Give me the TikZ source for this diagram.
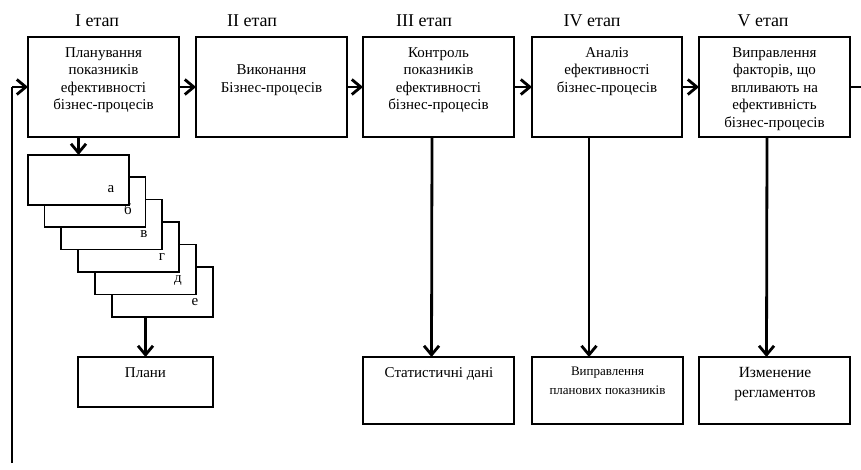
\documentclass[tikz,border=0pt]{standalone}
\usepackage{fontspec}
\setmainfont{Liberation Serif}
\usetikzlibrary{arrows.meta}
\begin{document}
\begin{tikzpicture}[x=1pt,y=-1pt,
  box/.style={draw=black, line width=1.3pt, fill=white, inner sep=0pt, outer sep=0pt},
  topbox/.style={box, minimum width=151pt, minimum height=100pt},
  stackbox/.style={box, minimum width=101pt, minimum height=50pt, anchor=north west},
  lowbox/.style={box, minimum width=151pt, minimum height=67pt, anchor=north west},
  arr/.style={line width=2.8pt, -{Straight Barb[length=9pt,width=15pt]}},
  thinline/.style={line width=1.1pt},
  lbl/.style={anchor=base, inner sep=0pt, font=\fontsize{15}{17.5}\selectfont},
  small/.style={anchor=base, inner sep=0pt, font=\fontsize{13}{19}\selectfont},
  big/.style={anchor=base, inner sep=0pt, font=\fontsize{15.5}{20}\selectfont},
  stage/.style={anchor=base, inner sep=0pt, font=\fontsize{18}{20}\selectfont},
]
\useasboundingbox (0,0) rectangle (861,470);

% stage labels
\node[stage] (g1) at (97,27) {I етап};
\node[stage] (g2) at (252,27) {II етап};
\node[stage] (g3) at (424,27) {III етап};
\node[stage] (g4) at (592,27) {IV етап};
\node[stage] (g5) at (763,27) {V етап};

% top boxes
\node[topbox] (b1) at (103.5,87) {};
\node[topbox] (b2) at (271.5,87) {};
\node[topbox] (b3) at (438.5,87) {};
\node[topbox, minimum width=150pt] (b4) at (607,87) {};
\node[topbox] (b5) at (774.5,87) {};

\node[lbl] (t1) at (103.5,57.5) {\parbox[t]{150pt}{\centering Планування\\показників\\ефективності\\бізнес-процесів}};
\node[lbl] (t2) at (271.5,75) {\parbox[t]{150pt}{\centering Виконання\\Бізнес-процесів}};
\node[lbl] (t3) at (438.5,57.5) {\parbox[t]{150pt}{\centering Контроль\\показників\\ефективності\\бізнес-процесів}};
\node[lbl] (t4) at (607,57.5) {\parbox[t]{150pt}{\centering Аналіз\\ефективності\\бізнес-процесів}};
\node[lbl] (t5) at (774.5,57.5) {\parbox[t]{150pt}{\centering Виправлення\\факторів, що\\впливають на\\ефективність\\бізнес-процесів}};

% stacked boxes (drawn back to front)
\node[stackbox] (se) at (112,267) {};
\node[stackbox] (sd) at (95,244.5) {};
\node[stackbox] (sg) at (78,222) {};
\node[stackbox] (sv) at (61,199.5) {};
\node[stackbox] (sb) at (44.5,177) {};
\node[stackbox] (sa) at (28,155) {};
\node[lbl] (la) at (111,192.5) {а};
\node[lbl] (lb) at (128,214.5) {б};
\node[lbl] (lv) at (144,237.5) {в};
\node[lbl] (lg) at (162,260) {г};
\node[lbl] (ld) at (178,282.5) {д};
\node[lbl] (le) at (195,305.5) {е};

% lower boxes
\node[box, minimum width=135pt, minimum height=50pt, anchor=north west] (pl) at (78,357) {};
\node[lbl] (tpl) at (145.5,377) {Плани};
\node[lowbox] (d3) at (363,357) {};
\node[lowbox] (d4) at (532,357) {};
\node[lowbox] (d5) at (699,357) {};
\node[lbl] (td3) at (439,377) {Статистичні дані};
\node[small] (td4) at (607.5,375) {\parbox[t]{150pt}{\centering Виправлення\\планових показників}};
\node[big] (td5) at (775,377) {\parbox[t]{150pt}{\centering Изменение\\регламентов}};

% horizontal arrows
\draw[arr] (b1.east) -- (b2.west);
\draw[arr] (b2.east) -- (b3.west);
\draw[arr] (b3.east) -- (b4.west);
\draw[arr] (b4.east) -- (b5.west);

% vertical arrows
\draw[arr] ([xshift=-25pt]b1.south) -- (sa.north);
\draw[arr] ([xshift=-17pt]se.south) -- (pl.north);
\draw[arr] ([xshift=-6.5pt]b3.south) -- ([xshift=-7pt]d3.north);
\draw[arr] ([xshift=-18pt]b4.south) -- ([xshift=-18.5pt]d4.north);
\draw[arr] ([xshift=-7.5pt]b5.south) -- ([xshift=-8pt]d5.north);

% feedback
\coordinate (fbb) at (12,463);
\coordinate (fbt) at (12,87);
\coordinate (fbr) at (861,87);
\draw[thinline] (fbb) -- (fbt);
\draw[arr] (fbt) -- (b1.west);
\draw[thinline] (b5.east) -- (fbr);
\end{tikzpicture}
\end{document}
